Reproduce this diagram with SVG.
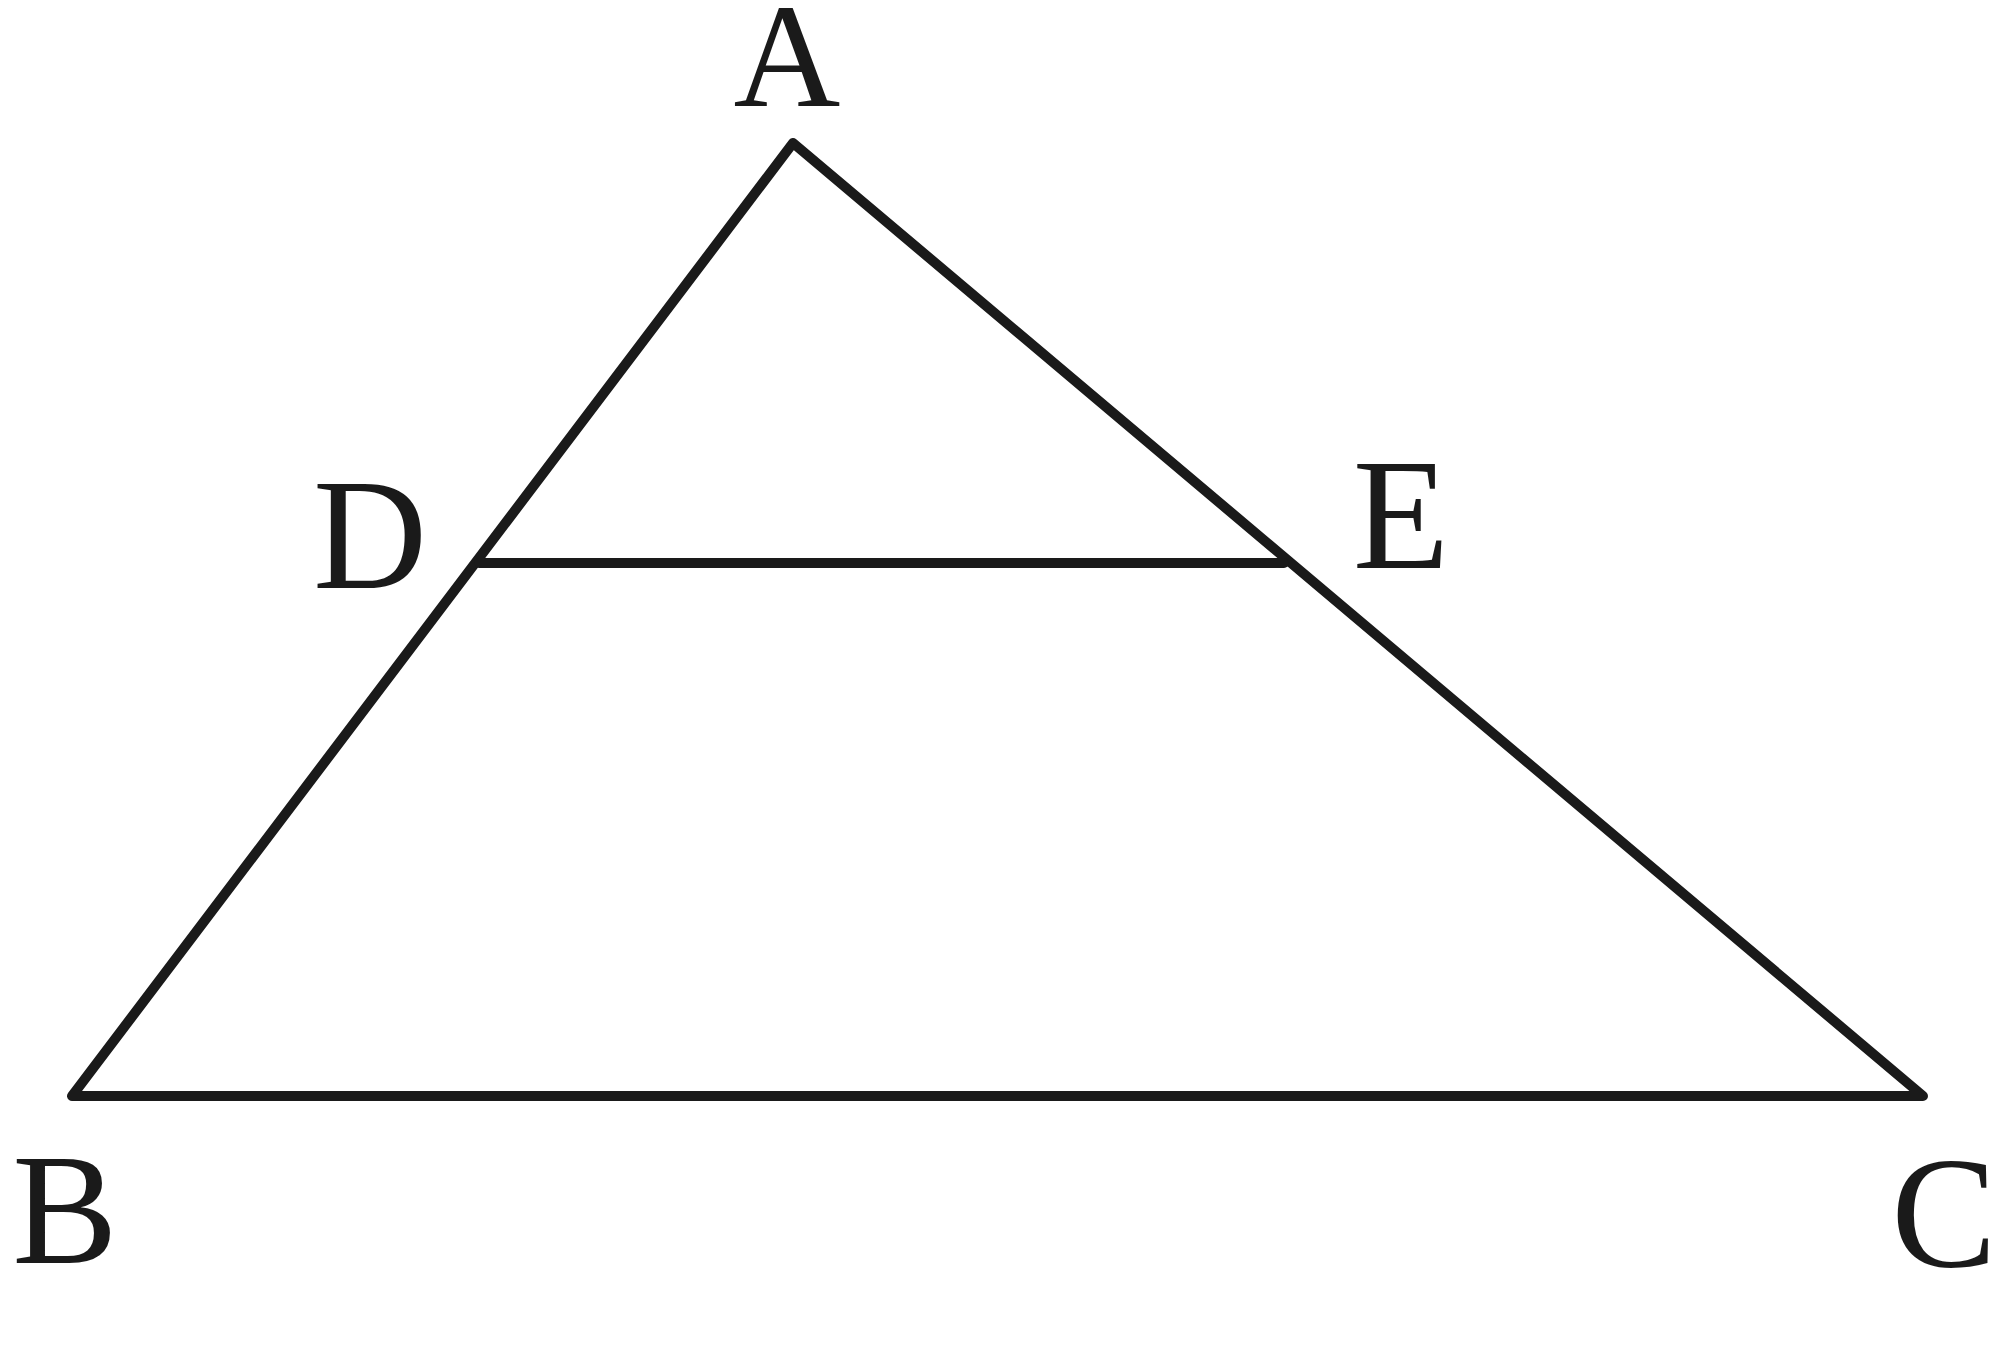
<svg xmlns="http://www.w3.org/2000/svg" width="2000" height="1353" viewBox="0 0 2000 1353">
<style>
.edge{stroke:#1a1a1a;stroke-width:10;fill:none;stroke-linejoin:round;stroke-linecap:round}
.lbl{font-family:"Liberation Serif","DejaVu Serif",serif;font-size:158px;fill:#1a1a1a;text-anchor:middle}
</style>
<rect width="2000" height="1353" fill="#ffffff"/>
<g id="connectors">
<path class="edge" d="M793,143 L72,1096 L1923,1096 Z"/>
<path class="edge" d="M479,563 L1284,563"/>
</g>
<g id="A"><text class="lbl" x="787" y="106" style="font-size:148px">A</text></g>
<g id="D"><text class="lbl" x="370" y="588">D</text></g>
<g id="E"><text class="lbl" x="1401" y="568">E</text></g>
<g id="B"><text class="lbl" x="65" y="1263">B</text></g>
<g id="C"><text class="lbl" x="1944" y="1266">C</text></g>
</svg>
